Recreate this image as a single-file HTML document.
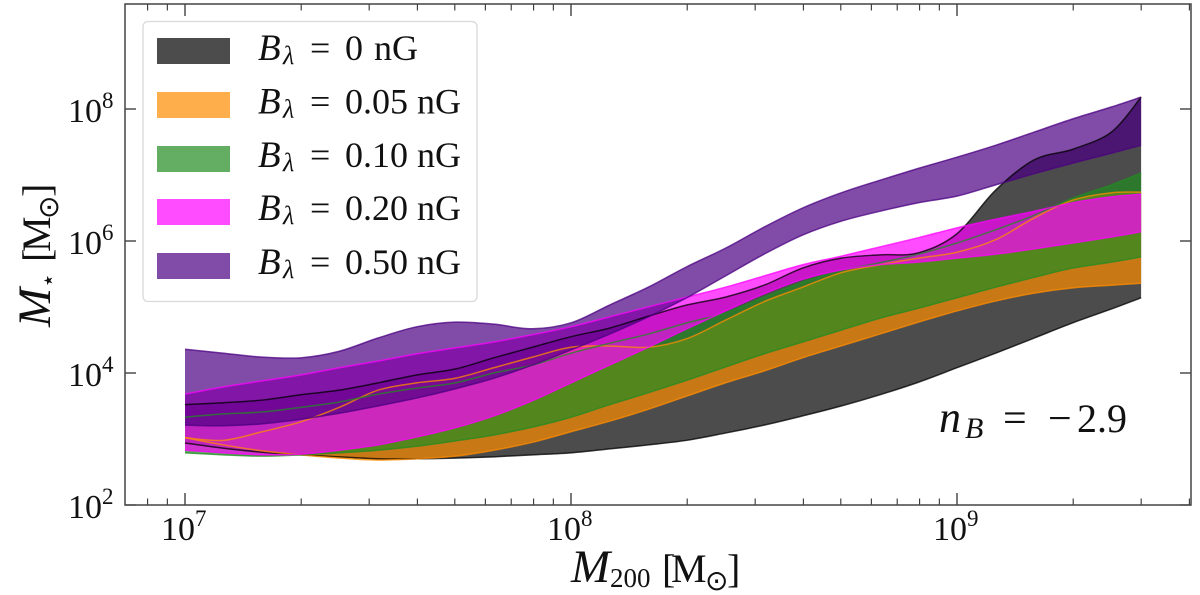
<!DOCTYPE html>
<html lang="en">
<head>
<meta charset="utf-8">
<title>Stellar mass vs halo mass</title>
<style>
html,body{margin:0;padding:0;background:#fff;width:1200px;height:595px;overflow:hidden}
svg{display:block}
text{font-family:"Liberation Serif","DejaVu Serif",serif;fill:#111}
.m{font-style:italic}
.sun{font-family:"DejaVu Sans",sans-serif}
</style>
</head>
<body>
<svg id="chart" width="1200" height="595" viewBox="0 0 1200 595" xmlns="http://www.w3.org/2000/svg">
  <rect x="0" y="0" width="1200" height="595" fill="#fff"/>
  <g id="bands"></g>
  <g id="edges"></g>
  <g id="ticks"></g>
  <rect x="125" y="4" width="1066" height="501" fill="none" stroke="#444" stroke-width="1.5"/>
  <g id="tick-labels"></g>

  <text font-size="38">
    <tspan class="m" x="571" y="582" font-size="47">M</tspan>
    <tspan x="610" y="587" font-size="27">200</tspan>
    <tspan x="662" y="582" font-size="40">[</tspan>
    <tspan x="671" y="582" font-size="40">M</tspan>
    <tspan class="sun" x="705" y="590" font-size="28">⊙</tspan>
    <tspan x="727" y="582" font-size="40">]</tspan>
  </text>
  <text transform="translate(50,327) rotate(-90)" font-size="38">
    <tspan class="m" x="0" y="0" font-size="47">M</tspan>
    <tspan class="sun" x="39" y="6" font-size="24">⋆</tspan>
    <tspan x="65" y="0" font-size="40">[</tspan>
    <tspan x="75" y="0" font-size="40">M</tspan>
    <tspan class="sun" x="108" y="8" font-size="28">⊙</tspan>
    <tspan x="130" y="0" font-size="40">]</tspan>
  </text>
  <text font-size="42">
    <tspan class="m" x="939" y="432" font-size="44">n</tspan>
    <tspan class="m" x="965" y="438" font-size="30">B</tspan>
    <tspan x="1003" y="432">=</tspan>
    <tspan x="1048" y="432">−</tspan>
    <tspan x="1077" y="432" font-size="40">2.9</tspan>
  </text>

  <g>
    <rect x="143" y="21.5" width="334" height="280" rx="5" fill="#fff" fill-opacity="0.8" stroke="#d9d9d9" stroke-width="1.3"/>
    <g>
      <rect x="157" y="38" width="73" height="26" fill="#000" fill-opacity="0.7"/>
      <text font-size="36"><tspan class="m" x="258" y="60" font-size="37">B</tspan><tspan class="m" x="283" y="64" font-size="26">λ</tspan><tspan x="310" y="60">=</tspan><tspan x="345" y="60">0</tspan><tspan x="374" y="60">nG</tspan></text>
    </g>
    <g>
      <rect x="157" y="92" width="73" height="26" fill="#ff8c00" fill-opacity="0.7"/>
      <text font-size="36"><tspan class="m" x="258" y="113.5" font-size="37">B</tspan><tspan class="m" x="283" y="117.5" font-size="26">λ</tspan><tspan x="310" y="113.5">=</tspan><tspan x="345" y="113.5">0.05</tspan><tspan x="417" y="113.5">nG</tspan></text>
    </g>
    <g>
      <rect x="157" y="146" width="73" height="26" fill="#228b22" fill-opacity="0.7"/>
      <text font-size="36"><tspan class="m" x="258" y="167" font-size="37">B</tspan><tspan class="m" x="283" y="171" font-size="26">λ</tspan><tspan x="310" y="167">=</tspan><tspan x="345" y="167">0.10</tspan><tspan x="417" y="167">nG</tspan></text>
    </g>
    <g>
      <rect x="157" y="199" width="73" height="26" fill="#ff00ff" fill-opacity="0.7"/>
      <text font-size="36"><tspan class="m" x="258" y="220" font-size="37">B</tspan><tspan class="m" x="283" y="224" font-size="26">λ</tspan><tspan x="310" y="220">=</tspan><tspan x="345" y="220">0.20</tspan><tspan x="417" y="220">nG</tspan></text>
    </g>
    <g>
      <rect x="157" y="253" width="73" height="26" fill="#4b0082" fill-opacity="0.7"/>
      <text font-size="36"><tspan class="m" x="258" y="274" font-size="37">B</tspan><tspan class="m" x="283" y="278" font-size="26">λ</tspan><tspan x="310" y="274">=</tspan><tspan x="345" y="274">0.50</tspan><tspan x="417" y="274">nG</tspan></text>
    </g>
  </g>
</svg>
<script>
// log10(M200 / Msun) sample positions
const logHaloMass = [7.0,7.1,7.2,7.3,7.4,7.5,7.6,7.7,7.8,7.9,8.0,8.1,8.2,8.3,8.4,8.5,8.6,8.7,8.8,8.9,9.0,9.1,9.2,9.3,9.4,9.477];

// log10(M* / Msun): lower and upper bounds of each band
const b0Low    = [2.94,2.86,2.80,2.76,2.73,2.70,2.70,2.71,2.73,2.76,2.79,2.85,2.91,2.98,3.09,3.21,3.35,3.50,3.67,3.86,4.08,4.30,4.53,4.76,4.97,5.14];
const b0High   = [3.52,3.55,3.59,3.67,3.74,3.85,3.97,4.06,4.23,4.39,4.55,4.68,4.86,5.03,5.15,5.33,5.59,5.74,5.79,5.82,6.11,6.77,7.23,7.39,7.65,8.18];
const b005Low  = [3.02,2.91,2.82,2.76,2.71,2.68,2.70,2.74,2.83,2.95,3.11,3.27,3.45,3.65,3.85,4.03,4.23,4.41,4.59,4.77,4.94,5.09,5.21,5.29,5.33,5.36];
const b005High = [3.02,2.98,3.11,3.26,3.48,3.74,3.85,3.92,4.08,4.24,4.39,4.41,4.39,4.52,4.80,5.08,5.30,5.52,5.64,5.74,5.83,6.02,6.35,6.62,6.73,6.74];
const b010Low  = [2.79,2.76,2.74,2.76,2.79,2.83,2.89,2.97,3.06,3.18,3.33,3.52,3.70,3.89,4.09,4.29,4.47,4.65,4.83,4.98,5.14,5.30,5.45,5.59,5.68,5.76];
const b010High = [3.33,3.38,3.41,3.48,3.56,3.68,3.77,3.85,4.00,4.12,4.30,4.45,4.59,4.76,4.91,5.15,5.38,5.55,5.67,5.80,5.97,6.17,6.39,6.65,6.85,7.03];
const b020Low  = [2.83,2.79,2.76,2.77,2.83,2.91,3.03,3.17,3.35,3.58,3.85,4.12,4.39,4.67,4.94,5.20,5.42,5.56,5.64,5.68,5.74,5.80,5.88,5.97,6.06,6.14];
const b020High = [3.68,3.79,3.88,3.97,4.08,4.18,4.29,4.38,4.47,4.58,4.70,4.85,5.00,5.15,5.30,5.47,5.64,5.77,5.91,6.05,6.20,6.33,6.45,6.58,6.67,6.71];
const b050Low  = [3.21,3.20,3.23,3.30,3.39,3.50,3.62,3.76,3.92,4.12,4.35,4.59,4.85,5.14,5.47,5.80,6.09,6.30,6.45,6.58,6.68,6.85,7.02,7.18,7.33,7.45];
const b050High = [4.36,4.30,4.24,4.23,4.33,4.53,4.70,4.77,4.74,4.67,4.76,5.03,5.30,5.61,5.89,6.21,6.50,6.73,6.92,7.10,7.27,7.45,7.65,7.85,8.03,8.18];

const xMajorTicks = [7,8,9];
const xMinorMultipliers = [2,3,4,5,6,7,8,9];
const yMajorTicks = [2,4,6,8];

const bandNames = ['b0','b005','b010','b020','b050'];
const bandLows = [b0Low,b005Low,b010Low,b020Low,b050Low];
const bandHighs = [b0High,b005High,b010High,b020High,b050High];
const bandFills = ['#000000','#ff8c00','#228b22','#ff00ff','#4b0082'];
const bandEdges = ['#000000','#ff8c00','#228b22','#ff00ff','#4b0082'];

const NS = 'http://www.w3.org/2000/svg';
const xScale = v => 185 + (v - 7) * 386;
const yScale = v => 505 - (v - 2) * 66;
const PLOT = {left:125,right:1191,top:4,bottom:505};

function spline(pts, move) {
  let d = (move ? 'M' : 'L') + pts[0][0].toFixed(2) + ' ' + pts[0][1].toFixed(2);
  for (let i = 0; i < pts.length - 1; i++) {
    const p0 = pts[Math.max(i - 1, 0)], p1 = pts[i], p2 = pts[i + 1], p3 = pts[Math.min(i + 2, pts.length - 1)];
    const c1x = p1[0] + (p2[0] - p0[0]) / 6, c1y = p1[1] + (p2[1] - p0[1]) / 6;
    const c2x = p2[0] - (p3[0] - p1[0]) / 6, c2y = p2[1] - (p3[1] - p1[1]) / 6;
    d += 'C' + c1x.toFixed(2) + ' ' + c1y.toFixed(2) + ' ' + c2x.toFixed(2) + ' ' + c2y.toFixed(2) + ' ' + p2[0].toFixed(2) + ' ' + p2[1].toFixed(2);
  }
  return d;
}

const bands = document.getElementById('bands');
const edges = document.getElementById('edges');
bandNames.forEach((name, i) => {
  const low = logHaloMass.map((x, k) => [xScale(x), yScale(bandLows[i][k])]);
  const high = logHaloMass.map((x, k) => [xScale(x), yScale(bandHighs[i][k])]);
  const fill = document.createElementNS(NS, 'path');
  
  
  fill.setAttribute('d', spline(low, true) + spline(high.slice().reverse(), false) + 'Z');
  fill.setAttribute('fill', bandFills[i]);
  fill.setAttribute('fill-opacity', '0.7');
  bands.appendChild(fill);
  [low, high].forEach(line => {
    const edge = document.createElementNS(NS, 'path');
    
    
    edge.setAttribute('d', spline(line, true));
    edge.setAttribute('fill', 'none');
    edge.setAttribute('stroke', bandEdges[i]);
    edge.setAttribute('stroke-width', '1.5');
    edge.setAttribute('stroke-opacity', '0.75');
    edges.appendChild(edge);
  });
});

const ticks = document.getElementById('ticks');
function tick(x1, y1, x2, y2, sw) {
  const l = document.createElementNS(NS, 'line');
  
  
  l.setAttribute('x1', x1);
  l.setAttribute('y1', y1);
  l.setAttribute('x2', x2);
  l.setAttribute('y2', y2);
  l.setAttribute('stroke', '#333');
  l.setAttribute('stroke-width', sw);
  ticks.appendChild(l);
}
function xTick(px, len, sw) {
  tick(px, PLOT.bottom, px, PLOT.bottom - len, sw);
  tick(px, PLOT.top, px, PLOT.top + len, sw);
}
function yTick(py, len, sw) {
  tick(PLOT.left, py, PLOT.left + len, py, sw);
  tick(PLOT.right, py, PLOT.right - len, py, sw);
}
xMajorTicks.forEach(v => xTick(xScale(v), 12, 1.3));
[6,7,8,9].forEach(d => {
  xMinorMultipliers.forEach(m => {
    const lv = d + Math.log10(m);
    const px = xScale(lv);
    if (px > PLOT.left + 1 && px < PLOT.right - 1) xTick(px, 6.5, 1.1);
  });
});
yMajorTicks.forEach(v => yTick(yScale(v), 11, 1.3));

const labels = document.getElementById('tick-labels');
function powerLabel(x, y, exp, name) {
  const t = document.createElementNS(NS, 'text');
  
  
  t.setAttribute('x', x);
  t.setAttribute('y', y);
  t.setAttribute('font-size', '34');
  t.appendChild(document.createTextNode('10'));
  const s = document.createElementNS(NS, 'tspan');
  s.setAttribute('font-size', '23');
  s.setAttribute('dy', '-14');
  s.textContent = exp;
  t.appendChild(s);
  labels.appendChild(t);
}
xMajorTicks.forEach(v => powerLabel(xScale(v) - 24, 540, v, 'x-tick-label'));
yMajorTicks.forEach(v => powerLabel(68, yScale(v) + 13, v, 'y-tick-label'));
</script>
</body>
</html>
